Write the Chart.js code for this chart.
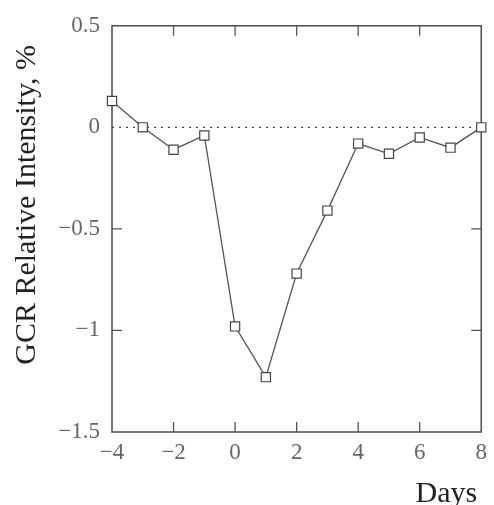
<!DOCTYPE html>
<html>
<head>
<meta charset="utf-8">
<script src="https://cdn.jsdelivr.net/npm/chart.js@4"></script>
<style>
  html, body { margin: 0; background: #fff; }
  #wrap { width: 494px; height: 505px; }
</style>
</head>
<body>
<div id="wrap"><canvas id="chart"></canvas></div>
<script>
// --- data ---
const days = [-4, -3, -2, -1, 0, 1, 2, 3, 4, 5, 6, 7, 8];
const intensity = [0.13, 0.0, -0.11, -0.04, -0.98, -1.23, -0.72, -0.41, -0.08, -0.13, -0.05, -0.10, 0.0];
const xTickValues = [-4, -2, 0, 2, 4, 6, 8];
const yTickValues = [0.5, 0, -0.5, -1, -1.5];
const xTitle = 'Days';
const yTitle = 'GCR Relative Intensity, %';

const fmt = v => String(v).replace('-', '\u2212');
const serif = "'Liberation Serif', 'DejaVu Serif', serif";

// frame, inward ticks, dashed zero line and axis titles
const framePlugin = {
    id: 'frame',
    beforeDatasetsDraw(chart) {
        const { ctx, chartArea: a, scales: { x, y } } = chart;
        ctx.save();
        ctx.strokeStyle = '#555';
        ctx.lineWidth = 1.6;
        ctx.strokeRect(a.left, a.top, a.right - a.left, a.bottom - a.top);

        ctx.lineWidth = 1.3;
        ctx.beginPath();
        xTickValues.forEach(v => {
            if (v === x.min || v === x.max) return;
            const px = x.getPixelForValue(v);
            ctx.moveTo(px, a.bottom); ctx.lineTo(px, a.bottom - 10);
            ctx.moveTo(px, a.top); ctx.lineTo(px, a.top + 10);
        });
        yTickValues.forEach(v => {
            if (v === y.min || v === y.max || v === 0) return;
            const py = y.getPixelForValue(v);
            ctx.moveTo(a.left, py); ctx.lineTo(a.left + 10, py);
            ctx.moveTo(a.right, py); ctx.lineTo(a.right - 10, py);
        });
        ctx.stroke();

        const y0 = y.getPixelForValue(0);
        ctx.setLineDash([2, 5]);
        ctx.lineWidth = 1.2;
        ctx.strokeStyle = '#444';
        ctx.beginPath();
        ctx.moveTo(a.left, y0); ctx.lineTo(a.right, y0);
        ctx.stroke();
        ctx.setLineDash([]);

        // titles
        ctx.fillStyle = '#222';
        ctx.font = '30px ' + serif;
        ctx.textBaseline = 'middle';
        ctx.textAlign = 'right';
        ctx.fillText(xTitle, a.right - 4, a.bottom + 62);

        ctx.translate(27, (a.top + a.bottom) / 2 - 24);
        ctx.rotate(-Math.PI / 2);
        ctx.textAlign = 'center';
        ctx.fillText(yTitle, 0, 0);
        ctx.restore();
    }
};

new Chart(document.getElementById('chart'), {
    type: 'scatter',
    data: {
        datasets: [{
            data: days.map((d, i) => ({ x: d, y: intensity[i] })),
            showLine: true,
            borderColor: '#555',
            borderWidth: 1.3,
            pointStyle: 'rect',
            pointRadius: 6.5,
            pointBackgroundColor: '#fff',
            pointBorderColor: '#444',
            pointBorderWidth: 1.2,
            clip: false
        }]
    },
    options: {
        responsive: true,
        maintainAspectRatio: false,
        animation: false,
        layout: { padding: { left: 0, top: 20, right: 8, bottom: 0 } },
        plugins: { legend: { display: false }, tooltip: { enabled: false } },
        scales: {
            x: {
                type: 'linear',
                min: -4,
                max: 8,
                afterFit: s => { s.height = 73; },
                afterBuildTicks: s => { s.ticks = xTickValues.map(v => ({ value: v })); },
                grid: { display: false, drawTicks: false },
                border: { display: false },
                ticks: {
                    padding: 7,
                    color: '#666',
                    font: { family: serif, size: 23 },
                    callback: fmt
                }
            },
            y: {
                min: -1.5,
                max: 0.5,
                afterFit: s => { s.width = 112; },
                afterBuildTicks: s => { s.ticks = yTickValues.map(v => ({ value: v })); },
                grid: { display: false, drawTicks: false },
                border: { display: false },
                ticks: {
                    padding: 12,
                    color: '#666',
                    font: { family: serif, size: 23 },
                    callback: fmt
                }
            }
        }
    },
    plugins: [framePlugin]
});
</script>
</body>
</html>
